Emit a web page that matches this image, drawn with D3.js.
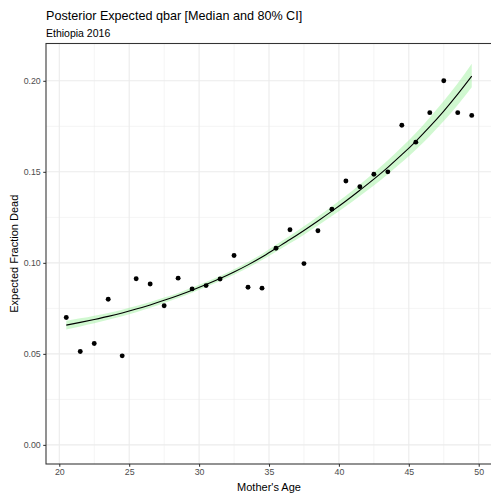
<!DOCTYPE html>
<html>
<head>
<meta charset="utf-8">
<script src="https://cdn.jsdelivr.net/npm/d3@7"></script>
<style>
  body { margin: 0; background: #fff; }
  text { font-family: "Liberation Sans", Arial, sans-serif; }
</style>
</head>
<body>
<div id="chart"></div>
<script>
// observed fractions by mother's age
var ages = [20.5, 21.5, 22.5, 23.5, 24.5, 25.5, 26.5, 27.5, 28.5, 29.5,
            30.5, 31.5, 32.5, 33.5, 34.5, 35.5, 36.5, 37.5, 38.5, 39.5,
            40.5, 41.5, 42.5, 43.5, 44.5, 45.5, 46.5, 47.5, 48.5, 49.5];
var observed = [0.0700, 0.0513, 0.0557, 0.0800, 0.0489, 0.0913, 0.0884, 0.0764, 0.0916, 0.0857,
                0.0875, 0.0911, 0.1040, 0.0866, 0.0861, 0.1080, 0.1182, 0.0996, 0.1176, 0.1295,
                0.1450, 0.1418, 0.1487, 0.1500, 0.1756, 0.1663, 0.1825, 0.2000, 0.1825, 0.1810];
// posterior median and 80% interval
var median = [0.0658, 0.0673, 0.0689, 0.0706, 0.0725, 0.0746, 0.0769, 0.0794, 0.0821, 0.0850,
              0.0881, 0.0914, 0.0950, 0.0989, 0.1032, 0.1080, 0.1128, 0.1178, 0.1230, 0.1284,
              0.1340, 0.1399, 0.1460, 0.1525, 0.1594, 0.1668, 0.1748, 0.1834, 0.1927, 0.2026];
var lower  = [0.0634, 0.0651, 0.0668, 0.0687, 0.0707, 0.0729, 0.0753, 0.0779, 0.0807, 0.0836,
              0.0867, 0.0900, 0.0935, 0.0973, 0.1015, 0.1061, 0.1107, 0.1155, 0.1205, 0.1257,
              0.1311, 0.1367, 0.1425, 0.1487, 0.1552, 0.1622, 0.1697, 0.1779, 0.1867, 0.1965];
var upper  = [0.0682, 0.0695, 0.0710, 0.0725, 0.0743, 0.0763, 0.0785, 0.0809, 0.0835, 0.0864,
              0.0895, 0.0928, 0.0965, 0.1005, 0.1049, 0.1099, 0.1149, 0.1201, 0.1255, 0.1311,
              0.1369, 0.1431, 0.1495, 0.1563, 0.1636, 0.1714, 0.1799, 0.1889, 0.1987, 0.2094];

var xMajor = [20, 25, 30, 35, 40, 45, 50];
var xMinor = [22.5, 27.5, 32.5, 37.5, 42.5, 47.5];
var yMajor = [0, 0.05, 0.10, 0.15, 0.20];
var yMinor = [0.025, 0.075, 0.125, 0.175];

var W = 491, H = 496;
var panel = {left: 46, right: 492, top: 43.5, bottom: 464};

var svg = d3.select("#chart").append("svg")
  .attr("width", W)
  .attr("height", H);

var xScale = d3.scaleLinear().domain([19.05, 50.95]).range([panel.left, panel.right]);
var yScale = d3.scaleLinear().domain([-0.0105, 0.2205]).range([panel.bottom, panel.top]);

// panel background grid
var grid = svg.append("g");
grid.selectAll(".xminor").data(xMinor).enter().append("line")
  .attr("x1", function(d){ return xScale(d); }).attr("x2", function(d){ return xScale(d); })
  .attr("y1", panel.top).attr("y2", panel.bottom)
  .attr("stroke", "#ebebeb").attr("stroke-width", 0.55);
grid.selectAll(".yminor").data(yMinor).enter().append("line")
  .attr("x1", panel.left).attr("x2", panel.right)
  .attr("y1", function(d){ return yScale(d); }).attr("y2", function(d){ return yScale(d); })
  .attr("stroke", "#ebebeb").attr("stroke-width", 0.55);
grid.selectAll(".xmajor").data(xMajor).enter().append("line")
  .attr("x1", function(d){ return xScale(d); }).attr("x2", function(d){ return xScale(d); })
  .attr("y1", panel.top).attr("y2", panel.bottom)
  .attr("stroke", "#ebebeb").attr("stroke-width", 1.07);
grid.selectAll(".ymajor").data(yMajor).enter().append("line")
  .attr("x1", panel.left).attr("x2", panel.right)
  .attr("y1", function(d){ return yScale(d); }).attr("y2", function(d){ return yScale(d); })
  .attr("stroke", "#ebebeb").attr("stroke-width", 1.07);

var rows = ages.map(function(a, i) {
  return {age: a, obs: observed[i], med: median[i], lo: lower[i], hi: upper[i]};
});

// credible band
var area = d3.area()
  .x(function(d){ return xScale(d.age); })
  .y0(function(d){ return yScale(d.lo); })
  .y1(function(d){ return yScale(d.hi); })
  .curve(d3.curveMonotoneX);

svg.append("path")
  .datum(rows)
  .attr("d", area)
  .attr("fill", "#90ee90")
  .attr("opacity", 0.42);

// median line
var line = d3.line()
  .x(function(d){ return xScale(d.age); })
  .y(function(d){ return yScale(d.med); })
  .curve(d3.curveMonotoneX);

svg.append("path")
  .datum(rows)
  .attr("d", line)
  .attr("fill", "none")
  .attr("stroke", "#000")
  .attr("stroke-width", 1.07);

// observed points
svg.selectAll(".pt").data(rows).enter().append("circle")
  .attr("cx", function(d){ return xScale(d.age); })
  .attr("cy", function(d){ return yScale(d.obs); })
  .attr("r", 2.45)
  .attr("fill", "#000");

// panel border
svg.append("rect")
  .attr("x", panel.left).attr("y", panel.top)
  .attr("width", panel.right - panel.left).attr("height", panel.bottom - panel.top)
  .attr("fill", "none").attr("stroke", "#333").attr("stroke-width", 1.07);

// axes
var xAxis = d3.axisBottom(xScale).tickValues(xMajor).tickSize(2.75).tickPadding(2.5)
  .tickFormat(d3.format("d"));
var yAxis = d3.axisLeft(yScale).tickValues(yMajor).tickSize(2.75).tickPadding(2.5)
  .tickFormat(d3.format(".2f"));

var gx = svg.append("g")
  .attr("transform", "translate(0," + panel.bottom + ")")
  .call(xAxis);
var gy = svg.append("g")
  .attr("transform", "translate(" + panel.left + ",0)")
  .call(yAxis);

[gx, gy].forEach(function(g) {
  g.select(".domain").remove();
  g.selectAll(".tick line").attr("stroke", "#333").attr("stroke-width", 1.07);
  g.selectAll(".tick text")
    .attr("fill", "#4d4d4d")
    .style("font-size", "8.8px")
    .style("font-family", "'Liberation Sans', Arial, sans-serif");
});

// titles
svg.append("text")
  .attr("x", panel.left).attr("y", 20)
  .style("font-size", "12.6px")
  .attr("fill", "#000")
  .text("Posterior Expected qbar [Median and 80% CI]");

svg.append("text")
  .attr("x", panel.left).attr("y", 36.5)
  .style("font-size", "10.5px")
  .attr("fill", "#000")
  .text("Ethiopia 2016");

svg.append("text")
  .attr("x", (panel.left + panel.right) / 2).attr("y", 490.5)
  .attr("text-anchor", "middle")
  .style("font-size", "11px")
  .text("Mother's Age");

svg.append("text")
  .attr("transform", "translate(18," + ((panel.top + panel.bottom) / 2) + ") rotate(-90)")
  .attr("text-anchor", "middle")
  .style("font-size", "11px")
  .text("Expected Fraction Dead");
</script>
</body>
</html>
